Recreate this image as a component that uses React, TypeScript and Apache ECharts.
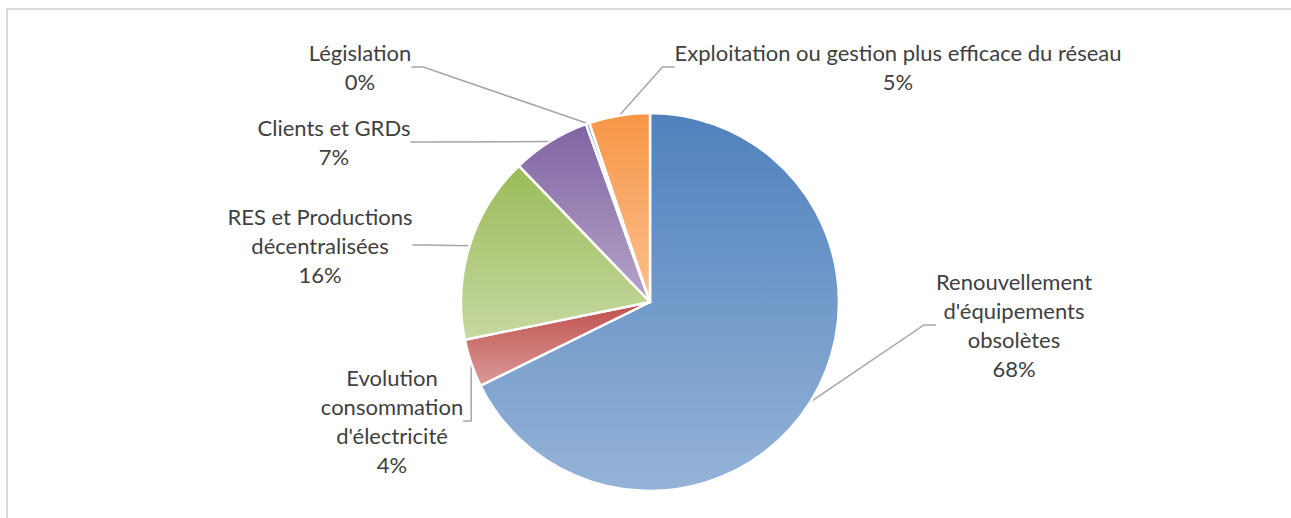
import React, { useEffect, useRef } from "react";
import * as echarts from "echarts";

const categories = [
  "Renouvellement\nd'équipements\nobsolètes",
  "Evolution\nconsommation\nd'électricité",
  "RES et Productions\ndécentralisées",
  "Clients et GRDs",
  "Législation",
  "Exploitation ou gestion plus efficace du réseau",
];
const values = [67.7, 4.1, 16.0, 6.7, 0.3, 5.2];

const topColors = ["#4F81BD", "#C0504D", "#9BBB59", "#8064A2", "#4BACC6", "#F79646"];
const bottomColors = ["#95B3D7", "#DA9A98", "#C6D9A0", "#B5A5C9", "#92CDDC", "#FAC090"];

// label block centres (layout)
const labelPos = [
  [1014, 325],
  [392, 421],
  [320, 245],
  [334, 142],
  [360, 67],
  [898, 67],
];

export default function App() {
  const ref = useRef<HTMLDivElement>(null);
  useEffect(() => {
    if (!ref.current) return;
    const chart = echarts.init(ref.current, null, { renderer: "svg" });
    chart.setOption({
      animation: false,
      backgroundColor: "#ffffff",
      graphic: [
        {
          type: "rect",
          shape: { x: 7, y: 9, width: 1320, height: 540 },
          style: { fill: "none", stroke: "#d9d9d9", lineWidth: 2 },
          silent: true,
        },
      ],
      series: [
        {
          type: "pie",
          center: [650, 302],
          radius: [0, 189],
          startAngle: 90,
          clockwise: true,
          avoidLabelOverlap: false,
          percentPrecision: 0,
          itemStyle: { borderColor: "#ffffff", borderWidth: 2.5 },
          label: {
            show: true,
            position: "outside",
            formatter: "{b}\n{d}%",
            color: "#404040",
            fontFamily: "Lato",
            fontSize: 22,
            lineHeight: 29,
            align: "center",
          },
          labelLine: {
            show: true,
            length: 10,
            length2: 12,
            smooth: false,
            lineStyle: { color: "#a6a6a6", width: 1.5 },
          },
          labelLayout: (params: any) => {
            const p = labelPos[params.dataIndex];
            return { x: p[0], y: p[1], align: "center", verticalAlign: "middle" };
          },
          data: categories.map((name, i) => ({
            name,
            value: values[i],
            itemStyle: {
              color: new echarts.graphic.LinearGradient(0, 0, 0, 1, [
                { offset: 0, color: topColors[i] },
                { offset: 1, color: bottomColors[i] },
              ]),
            },
          })),
        },
      ],
    });
    return () => chart.dispose();
  }, []);
  return (
    <div
      ref={ref}
      style={{ position: "fixed", left: 0, top: 0, width: 1291, height: 518 }}
    />
  );
}
